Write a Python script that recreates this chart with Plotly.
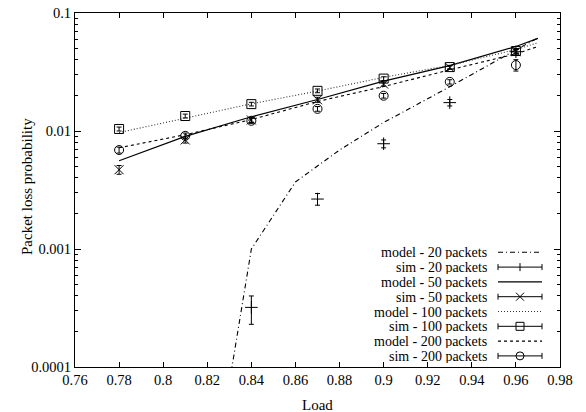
import plotly.graph_objects as go

# ---------------- data ----------------
load_model = [0.78, 0.81, 0.84, 0.87, 0.90, 0.93, 0.96, 0.97]
load_model20 = [0.83, 0.84, 0.86, 0.88, 0.90, 0.93, 0.96, 0.97]
model20 = [7.3e-5, 0.0010, 0.0037, 0.0069, 0.0118, 0.0237, 0.0487, 0.0615]
model50 = [0.0056, 0.0090, 0.0132, 0.0185, 0.0265, 0.0358, 0.0520, 0.0610]
model100 = [0.0097, 0.0129, 0.0170, 0.0218, 0.0285, 0.0360, 0.0490, 0.0560]
model200 = [0.0072, 0.0093, 0.0125, 0.0178, 0.0238, 0.0330, 0.0450, 0.0520]

load_sim = [0.78, 0.81, 0.84, 0.87, 0.90, 0.93, 0.96]
load_sim20 = [0.84, 0.87, 0.90, 0.93, 0.96]
sim20 = [0.00032, 0.00265, 0.0078, 0.0174, 0.0470]
sim20_err_plus = [0.00008, 0.0003, 0.0006, 0.0011, 0.0030]
sim20_err_minus = [0.00009, 0.0003, 0.0006, 0.0011, 0.0030]
sim50 = [0.0047, 0.0084, 0.0124, 0.0184, 0.0250, 0.0345, 0.0470]
sim50_err = [0.0004, 0.0005, 0.0006, 0.0009, 0.0010, 0.0012, 0.0020]
sim100 = [0.0104, 0.0134, 0.0169, 0.0219, 0.0278, 0.0348, 0.0476]
sim100_err = [0.0004, 0.0005, 0.0006, 0.0008, 0.0010, 0.0012, 0.0018]
sim200 = [0.0069, 0.0091, 0.0122, 0.0154, 0.0199, 0.0261, 0.0362]
sim200_err = [0.0004, 0.0005, 0.0006, 0.0007, 0.0009, 0.0011, 0.0040]

x_tickvals = [0.76, 0.78, 0.80, 0.82, 0.84, 0.86, 0.88, 0.90, 0.92, 0.94, 0.96, 0.98]
x_ticktext = ["0.76", "0.78", "0.8", "0.82", "0.84", "0.86", "0.88", "0.9", "0.92", "0.94", "0.96", "0.98"]
y_tickvals = [0.0001, 0.001, 0.01, 0.1]
y_ticktext = ["0.0001", "0.001", "0.01", "0.1"]

legend_labels = ["model - 20 packets", "sim - 20 packets", "model - 50 packets", "sim - 50 packets",
                 "model - 100 packets", "sim - 100 packets", "model - 200 packets", "sim - 200 packets"]
x_title = "Load"
y_title = "Packet loss probability"

# ---------------- styles ----------------
FONT = "Liberation Serif"
W, H = 586, 412
L, R, T, B = 75, 560, 13, 367
DASH20 = "5px,3px,1px,3px"
DASH100 = "1px,2px"
DASH200 = "3px,3px"

fig = go.Figure()

def model_trace(x, y, dash, color="black", width=1.1):
    fig.add_trace(go.Scatter(x=x, y=y, mode="lines", showlegend=False,
                             line=dict(color=color, width=width, dash=dash)))

def sim_trace(x, y, ep, em, symbol):
    fig.add_trace(go.Scatter(
        x=x, y=y, mode="markers", showlegend=False,
        marker=dict(symbol=symbol, size=9, color="black",
                    line=dict(color="black", width=1)),
        error_y=dict(type="data", symmetric=False, array=ep, arrayminus=em,
                     thickness=1, width=2.5, color="black")))

model_trace(load_model20, model20, DASH20)
model_trace(load_model, model50, "solid", width=1.2)
model_trace(load_model, model100, DASH100, color="#333333")
model_trace(load_model, model200, DASH200)

sim_trace(load_sim20, sim20, sim20_err_plus, sim20_err_minus, "cross-thin-open")
sim_trace(load_sim, sim50, sim50_err, sim50_err, "x-thin-open")
sim_trace(load_sim, sim100, sim100_err, sim100_err, "square-open")
sim_trace(load_sim, sim200, sim200_err, sim200_err, "circle-open")

# ---------------- custom gnuplot-style legend ----------------
def px(x):
    return (x - L) / (R - L)

def py(y):
    return (B - y) / (B - T)

shapes = []
annotations = []
row0, row_step = 252.3, 14.8
text_right, s0, s1, smid = 488, 498, 542, 520
model_styles = [DASH20, "solid", DASH100, DASH200]
sim_markers = ["plus", "x", "square", "circle"]
m = 4  # half marker size in px
for i, lab in enumerate(legend_labels):
    yc = row0 + i * row_step
    annotations.append(dict(x=px(text_right), y=py(yc), xref="paper", yref="paper",
                            text=lab, showarrow=False, xanchor="right", yanchor="middle",
                            height=14, borderpad=0,
                            font=dict(family=FONT, size=14, color="black")))
    ln = dict(color="black", width=1)
    if i % 2 == 0:
        st = model_styles[i // 2]
        col = "#333333" if st == DASH100 else "black"
        shapes.append(dict(type="line", xref="paper", yref="paper", x0=px(s0), x1=px(s1),
                           y0=py(yc), y1=py(yc), line=dict(color=col, width=1.1, dash=st)))
    else:
        shapes.append(dict(type="line", xref="paper", yref="paper", x0=px(s0), x1=px(s1),
                           y0=py(yc), y1=py(yc), line=ln))
        for xe in (s0, s1):
            shapes.append(dict(type="line", xref="paper", yref="paper", x0=px(xe), x1=px(xe),
                               y0=py(yc - 3), y1=py(yc + 3), line=ln))
        mk = sim_markers[i // 2]
        if mk == "plus":
            shapes.append(dict(type="line", xref="paper", yref="paper", x0=px(smid), x1=px(smid),
                               y0=py(yc - m), y1=py(yc + m), line=ln))
        elif mk == "x":
            shapes.append(dict(type="line", xref="paper", yref="paper", x0=px(smid - m), x1=px(smid + m),
                               y0=py(yc - m), y1=py(yc + m), line=ln))
            shapes.append(dict(type="line", xref="paper", yref="paper", x0=px(smid - m), x1=px(smid + m),
                               y0=py(yc + m), y1=py(yc - m), line=ln))
        elif mk == "square":
            shapes.append(dict(type="rect", xref="paper", yref="paper", x0=px(smid - m), x1=px(smid + m),
                               y0=py(yc + m), y1=py(yc - m), line=ln, fillcolor="rgba(0,0,0,0)"))
        else:
            shapes.append(dict(type="circle", xref="paper", yref="paper", x0=px(smid - m), x1=px(smid + m),
                               y0=py(yc + m), y1=py(yc - m), line=ln, fillcolor="rgba(0,0,0,0)"))

# axis titles placed like gnuplot
annotations.append(dict(x=px(317.5), y=py(404.5), xref="paper", yref="paper", text=x_title,
                        showarrow=False, xanchor="center", yanchor="middle",
                        font=dict(family=FONT, size=15, color="black")))
annotations.append(dict(x=px(27), y=py(187), xref="paper", yref="paper", text=y_title,
                        showarrow=False, xanchor="center", yanchor="middle", textangle=-90,
                        font=dict(family=FONT, size=15, color="black")))

minor_y = [k * 10 ** e for e in (-4, -3, -2) for k in range(2, 10)]

fig.update_layout(
    width=W, height=H,
    margin=dict(l=L, r=W - R, t=T, b=H - B, autoexpand=False),
    paper_bgcolor="white", plot_bgcolor="white",
    font=dict(family=FONT, size=14.5, color="black"),
    showlegend=False,
    shapes=shapes, annotations=annotations,
    xaxis=dict(range=[0.76, 0.98], tickmode="array", tickvals=x_tickvals, ticktext=x_ticktext,
               ticks="inside", ticklen=5, tickcolor="black", tickwidth=1,
               showline=True, linecolor="black", linewidth=1, mirror="ticks",
               showgrid=False, zeroline=False,
               tickfont=dict(family=FONT, size=14.5, color="black")),
    yaxis=dict(type="log", range=[-4, -1], tickmode="array", tickvals=y_tickvals, ticktext=y_ticktext,
               ticks="inside", ticklen=6, tickcolor="black", tickwidth=1,
               showline=True, linecolor="black", linewidth=1, mirror="ticks",
               showgrid=False, zeroline=False,
               tickfont=dict(family=FONT, size=14.5, color="black"),
               minor=dict(tickmode="array", tickvals=minor_y, ticks="inside", ticklen=3,
                          tickcolor="black", showgrid=False)),
)

fig.write_html("out.html")
